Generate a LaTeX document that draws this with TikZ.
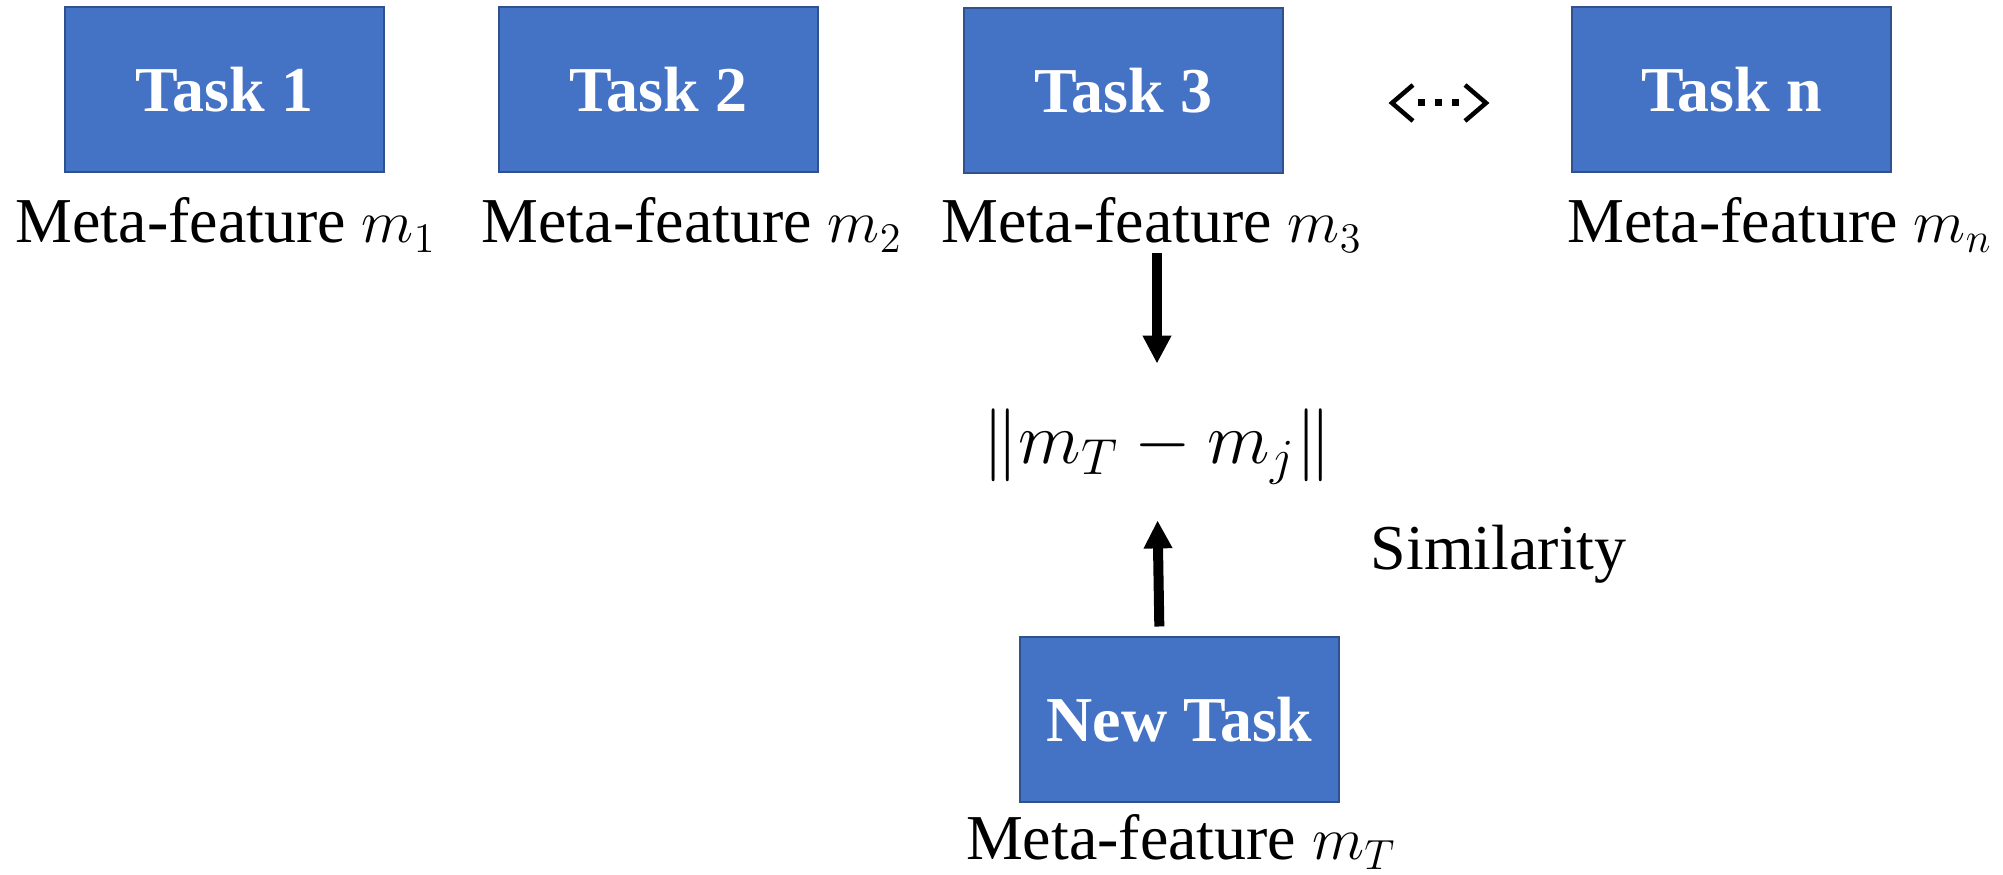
\documentclass[tikz,border=0pt]{standalone}
\usepackage{fontspec}
\setmainfont{Liberation Serif}
\usetikzlibrary{arrows.meta,positioning}
\definecolor{taskblue}{HTML}{4472C4}
\definecolor{taskedge}{HTML}{2F528F}

\begin{document}
\begin{tikzpicture}[x=0.1mm, y=-0.1mm,
  task/.style={draw=taskedge, line width=0.2mm, fill=taskblue, text=white,
    minimum width=31.9mm, minimum height=16.5mm, inner sep=0pt,
    font=\fontsize{18.2}{22}\selectfont\bfseries},
  feat/.style={anchor=base, inner sep=0pt, font=\fontsize{18.2}{22}\selectfont},
  arr/.style={line width=1mm, -{Triangle[length=2.8mm, width=2.7mm]}}]

  \useasboundingbox (0,0) rectangle (2003,875);

  % ---------------- known tasks ----------------
  \node[task] (t1) at (224.5,89.5) {Task 1};
  \node[task] (t2) at (658.5,89.5) {Task 2};
  \node[task] (t3) at (1123.5,91) {Task 3};
  \node[task] (tn) at (1731.5,89.5) {Task n};

  \node[feat] (m1) at (226,243) {Meta-feature $m_1$};
  \node[feat] (m2) at (692,243) {Meta-feature $m_2$};
  \node[feat] (m3) at (1152,243) {Meta-feature $m_3$};
  \node[feat] (mn) at (1780,243) {Meta-feature $m_n$};

  % the dots between task 3 and task n
  \coordinate (dl) at (1392,103);
  \coordinate (dr) at (1486,103);
  \draw[line width=0.45mm, miter limit=4] ([shift={(21,-18)}]dl) -- (dl) -- ([shift={(21,18)}]dl);
  \draw[line width=0.45mm, miter limit=4] ([shift={(-21,-18)}]dr) -- (dr) -- ([shift={(-21,18)}]dr);
  \draw[line width=0.7mm, dash pattern=on 0.7mm off 1mm]
    ([xshift=2.6mm]dl) -- ([xshift=-2.7mm]dr);

  % ---------------- distance ----------------
  \node[inner sep=0pt, font=\fontsize{19.5}{23}\selectfont] (dist) at (1157,447)
    {$\big\|m_T - m_j\big\|$};
  \node[feat, anchor=base west] (sim) at (1370,570) {Similarity};

  % ---------------- new task ----------------
  \node[task] (nt) at (1179.5,720) {New Task};
  \node[feat] (mT) at (1181,860) {Meta-feature $m_T$};

  \draw[arr, shorten >=4.5mm] (dist.north |- m3.south) -- (dist.north);
  \draw[arr, shorten <=1mm, shorten >=3.5mm] ([xshift=-2mm]nt.north) -- (dist.south);

\end{tikzpicture}
\end{document}
